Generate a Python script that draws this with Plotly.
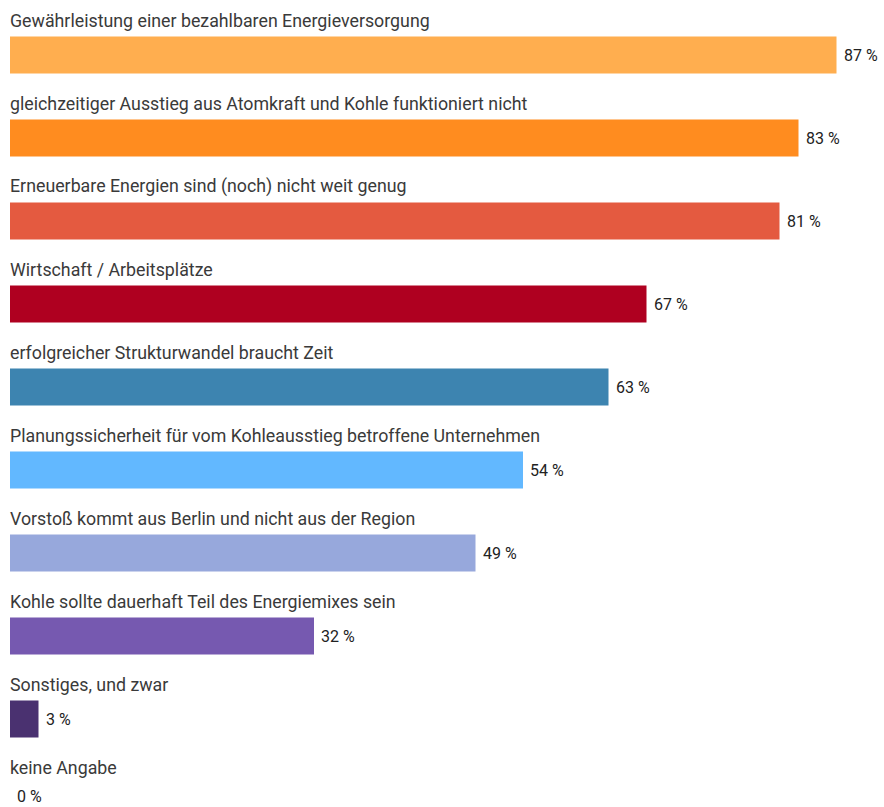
import plotly.graph_objects as go

categories = [
    "Gewährleistung einer bezahlbaren Energieversorgung",
    "gleichzeitiger Ausstieg aus Atomkraft und Kohle funktioniert nicht",
    "Erneuerbare Energien sind (noch) nicht weit genug",
    "Wirtschaft / Arbeitsplätze",
    "erfolgreicher Strukturwandel braucht Zeit",
    "Planungssicherheit für vom Kohleausstieg betroffene Unternehmen",
    "Vorstoß kommt aus Berlin und nicht aus der Region",
    "Kohle sollte dauerhaft Teil des Energiemixes sein",
    "Sonstiges, und zwar",
    "keine Angabe",
]
values = [87, 83, 81, 67, 63, 54, 49, 32, 3, 0]
colors = ["#FFAE4F", "#FF8C1F", "#E45A40", "#AF0020", "#3D84B0",
          "#62B8FF", "#97A8DC", "#7659B0", "#4A3170", "#999999"]

positions = list(range(len(categories)))
px_per_unit = 83.0
W, H = 884, 807
left = 10
scale = 9.5  # px per percent

fig = go.Figure(go.Bar(
    x=values,
    y=positions,
    orientation="h",
    marker=dict(color=colors, line=dict(width=0)),
    width=37 / px_per_unit,
    hoverinfo="skip",
))

for i, c in enumerate(categories):
    fig.add_annotation(
        x=0, y=i - 35 / px_per_unit, xref="x", yref="y",
        text=c, showarrow=False, xanchor="left", yanchor="middle",
        xshift=-2,
        font=dict(family="Roboto", size=17.8, color="#3a3a3a"),
    )

for i, v in enumerate(values):
    fig.add_annotation(
        x=v, y=i, xref="x", yref="y",
        text=f"{v} %", showarrow=False, xanchor="left", yanchor="middle",
        xshift=5, yshift=(6 if i == len(values) - 1 else 0),
        font=dict(family="Roboto", size=16, color="#222222"),
    )

fig.update_layout(
    width=W, height=H,
    margin=dict(l=left, r=0, t=0, b=0),
    plot_bgcolor="white", paper_bgcolor="white",
    showlegend=False,
    xaxis=dict(range=[0, (W - left) / scale], visible=False, fixedrange=True),
    yaxis=dict(range=[(H - 55) / px_per_unit, -55 / px_per_unit], visible=False, fixedrange=True),
)

fig.write_html("out.html", config={"displayModeBar": False})
